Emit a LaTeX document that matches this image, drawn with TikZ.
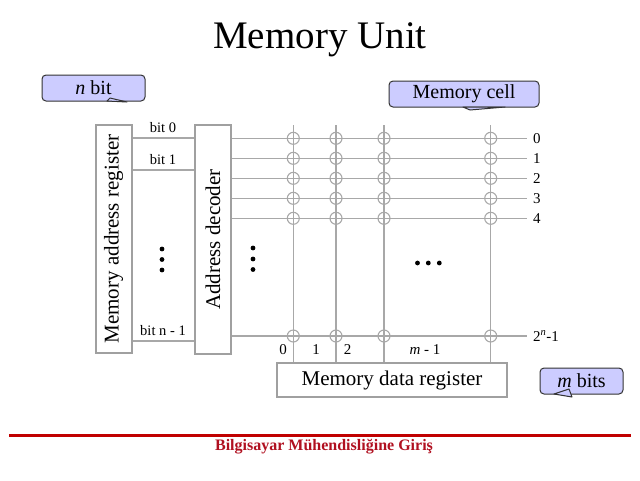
\documentclass[tikz,border=0pt]{standalone}
\usepackage{fontspec}
\setmainfont{Liberation Serif}
\definecolor{lineg}{HTML}{A8A8A8}
\definecolor{boxg}{HTML}{A0A0A0}
\definecolor{callfill}{HTML}{CCCCFF}
\definecolor{footred}{HTML}{C00000}
\definecolor{foottext}{HTML}{B01020}
\begin{document}
\begin{tikzpicture}[x=1pt,y=-1pt,
  grayline/.style={draw=lineg, line width=1.3pt},
  regbox/.style={draw=boxg, line width=2pt, inner sep=0pt},
  cellc/.style={circle, draw=lineg, line width=1.1pt, minimum size=12pt, inner sep=0pt},
  callout/.style={draw=black!80, fill=callfill, rounded corners=4pt, line width=1pt, minimum height=26pt, inner sep=0pt},
  calltail/.style={draw=black!80, fill=callfill, line width=1pt, line join=round},
  bitlbl/.style={font=\fontsize{14.5}{16}\selectfont, inner sep=1pt},
  rowlbl/.style={font=\fontsize{15}{17}\selectfont, inner sep=1pt},
  dotc/.style={fill=black, circle, inner sep=0pt, minimum size=4.8pt}
]
\useasboundingbox (0,0) rectangle (640,480);

% title
\node (title) at (320,40) {\fontsize{39}{44}\selectfont Memory Unit};

% callouts
\node[callout, minimum width=103pt] (nbit) at (93.5,88) {\fontsize{20}{24}\selectfont\textit{n} bit};
\draw[calltail] (107,101) -- (110,98) -- (127,102) -- cycle;
\node[callout, minimum width=150pt] (mcell) at (464,94) {\fontsize{20}{24}\selectfont Memory cell};
\draw[calltail] (463,107) -- (470,110) -- (505,107) -- cycle;
\node[callout, minimum width=83pt] (mbits) at (581.5,381) {\fontsize{20}{24}\selectfont\textit{m} bits};
\draw[calltail] (554,394) -- (569,389) -- (572,397) -- cycle;

% registers
\node[regbox, minimum width=36pt, minimum height=228pt] (mar) at (113.5,239) {};
\node[rotate=90] (martext) at (mar.center) {\fontsize{21}{25}\selectfont Memory address register};
\node[regbox, minimum width=36pt, minimum height=229pt] (dec) at (213,239.5) {};
\node[rotate=90] (dectext) at (dec.center) {\fontsize{21}{25}\selectfont Address decoder};
\node[regbox, minimum width=230pt, minimum height=34pt] (mdr) at (392,380) {\fontsize{21}{25}\selectfont Memory data register};

% address bit lines
\foreach \y/\t [count=\i] in {138/bit 0,170/bit 1,341/bit n - 1}{
  \draw[grayline] (mar.east |- 0,\y) -- (dec.west |- 0,\y);
  \node[bitlbl] (bl\i) at (163,\y-10) {\t};
}
\node[dotc] (d1) at (162,249) {};
\node[dotc] (d2) at (162,259.5) {};
\node[dotc] (d3) at (162,270) {};

% columns
\foreach \x [count=\j] in {293.3,336,384,490.7}{
  \coordinate (ct\j) at (\x,125);
  \draw[grayline] (ct\j) -- (mdr.north -| ct\j);
}

% word lines and cells
\foreach \y/\t [count=\i] in {138.3/0,158.3/1,178.3/2,198.3/3,218.3/4,336/{2\textsuperscript{\textit{n}}-1}}{
  \coordinate (we\i) at (527,\y);
  \draw[grayline] (dec.east |- we\i) -- (we\i);
  \node[rowlbl, anchor=west] (rl\i) at (532,\y) {\t};
  \foreach \x [count=\j] in {293.3,336,384,490.7}{
    \node[cellc] (c\i-\j) at (\x,\y) {};
  }
}

% column labels
\node[rowlbl] (cl0) at (283,350) {0};
\node[rowlbl] (cl1) at (316,350) {1};
\node[rowlbl] (cl2) at (347.5,350) {2};
\node[rowlbl] (cl3) at (425,350) {\textit{m} - 1};

% dots
\node[dotc] (e1) at (253,248) {};
\node[dotc] (e2) at (253,259) {};
\node[dotc] (e3) at (253,269.5) {};
\node[dotc] (h1) at (417.5,263) {};
\node[dotc] (h2) at (428.3,263) {};
\node[dotc] (h3) at (439.3,263) {};

% footer
\coordinate (fl) at (9,435);
\coordinate (fr) at (631,435);
\draw[draw=footred, line width=3pt] (fl) -- (fr);
\node[text=foottext, font=\fontsize{16}{19}\selectfont\bfseries] (foot) at (324,447) {Bilgisayar Mühendisliğine Giriş};
\end{tikzpicture}
\end{document}
